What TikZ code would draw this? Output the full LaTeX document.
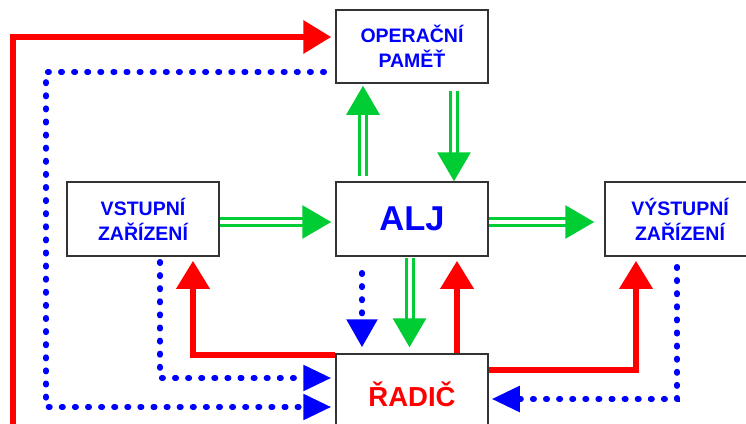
\documentclass[tikz,border=0pt]{standalone}
\usepackage{fontspec}
\setmainfont{Liberation Sans}
\usetikzlibrary{arrows.meta}
\definecolor{gr}{RGB}{0,204,51}
\definecolor{bl}{RGB}{0,0,255}
\definecolor{rd}{RGB}{255,0,0}
\definecolor{bd}{RGB}{51,51,51}
\tikzset{
  box/.style={draw=bd, line width=1.5pt, fill=white, inner sep=0pt, align=center,
    font=\bfseries\fontsize{19.5}{25}\selectfont, text=bl},
  redarr/.style={draw=rd, line width=6.5pt, line join=miter,
    -{Triangle[length=28pt,width=32pt]}},
  greenarr/.style={draw=gr, line width=3pt, double=white, double distance=4pt,
    -{Triangle[length=29pt,width=33pt,fill=gr]}},
  bluedot/.style={draw=bl, line width=5.5pt, line cap=round,
    dash pattern=on 1.5pt off 11.6pt,
    -{Triangle[length=28pt,width=25pt]}},
}
\begin{document}
\begin{tikzpicture}[x=1pt,y=-1pt]
\useasboundingbox (0,0) rectangle (746,423);
% boxes
\node[box, minimum width=152pt, minimum height=73pt] (op) at (412,46.5) {OPERAČNÍ\\PAMĚŤ};
\node[box, minimum width=152pt, minimum height=74pt] (vst) at (143,219) {VSTUPNÍ\\ZAŘÍZENÍ};
\node[box, minimum width=152pt, minimum height=74pt, font=\bfseries\fontsize{34.5}{40}\selectfont] (alj) at (412,219) {ALJ};
\node[box, minimum width=150pt, minimum height=74pt] (vys) at (680,219) {VÝSTUPNÍ\\ZAŘÍZENÍ};
\node[box, minimum width=152pt, minimum height=76pt, text=rd,
  font=\bfseries\fontsize{27.5}{30}\selectfont, text height=28.7pt, text depth=0pt] (rad) at (412,392) {ŘADIČ};
% red connectors
\draw[redarr, shorten >=4pt] (rad.west |- 0,427.5) -- (13,427.5) -- (13,37) -- (op.west |- 0,37);
\draw[redarr, shorten >=4pt] (rad.west |- 0,355) -- (193,355) -- (vst.south -| 193,0);
\draw[redarr, shorten >=4pt] (rad.north -| 457,0) -- (alj.south -| 457,0);
\draw[redarr, shorten >=4pt] (rad.east |- 0,370) -- (636,370) -- (vys.south -| 636,0);
% green connectors
\draw[greenarr, shorten >=4pt] (vst.east |- 0,222) -- (alj.west |- 0,222);
\draw[greenarr, shorten >=10pt] (alj.east |- 0,222) -- (vys.west |- 0,222);
\draw[greenarr, shorten <=5pt, shorten >=2pt] (alj.north -| 363,0) -- (op.south -| 363,0);
\draw[greenarr, shorten <=7pt] (op.south -| 454,0) -- (alj.north -| 454,0);
\draw[greenarr, shorten <=1pt, shorten >=6pt] (alj.south -| 409.5,0) -- (rad.north -| 409.5,0);
% blue dotted connectors
\draw[bluedot, shorten <=11pt, shorten >=4pt] (op.west |- 0,72) -- (46,72) -- (46,407) -- (rad.west |- 0,407);
\draw[bluedot, shorten <=5pt, shorten >=4pt] (vst.south -| 160,0) -- (160,378) -- (rad.west |- 0,378);
\draw[bluedot, -{Triangle[length=28pt,width=30pt]}, shorten <=16pt, shorten >=6pt] (alj.south -| 362,0) -- (rad.north -| 362,0);
\draw[bluedot, shorten <=10pt, shorten >=3pt] (vys.south -| 677,0) -- (677,399) -- (rad.east |- 0,399);
\end{tikzpicture}
\end{document}
